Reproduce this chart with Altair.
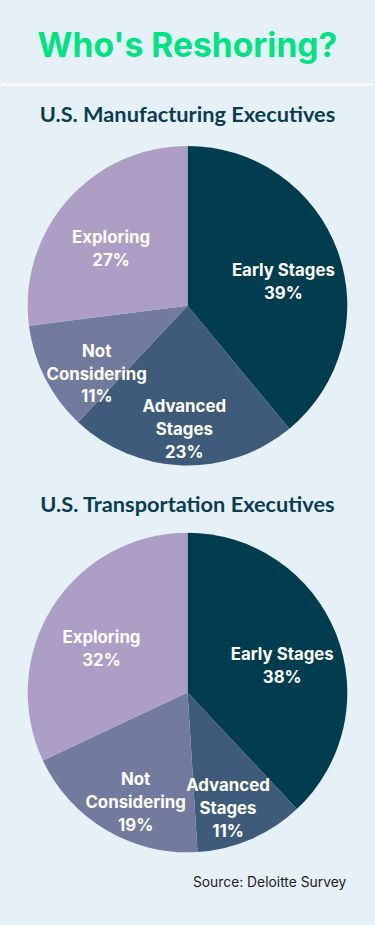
import altair as alt
import pandas as pd

title_text = "Who's Reshoring?"
source_text = "Source: Deloitte Survey"
categories = ["Early Stages", "Advanced Stages", "Not Considering", "Exploring"]
label_lines = ["Early Stages", "Advanced\nStages", "Not\nConsidering", "Exploring"]
manufacturing_title = "U.S. Manufacturing Executives"
manufacturing_values = [39, 23, 11, 27]
transportation_title = "U.S. Transportation Executives"
transportation_values = [38, 11, 19, 32]
slice_colors = ["#023d4f", "#3e5c79", "#727b9e", "#ad9ec6"]

W = 375
BG = "#e6f1f7"
DARK = "#0b3d50"


def text_panel(text, height, y, size, weight, color, font, align="center", x=W / 2):
    df = pd.DataFrame({"t": [text]})
    return (
        alt.Chart(df)
        .mark_text(font=font, fontSize=size, fontWeight=weight, color=color,
                   align=align, baseline="alphabetic")
        .encode(text="t:N", x=alt.value(x), y=alt.value(y))
        .properties(width=W, height=height)
    )


def pie(values):
    df = pd.DataFrame({
        "category": categories,
        "label": label_lines,
        "value": values,
        "order": list(range(len(categories))),
    })
    df["text"] = df["label"] + "\n" + df["value"].astype(str) + "%"
    arcs = alt.Chart(df).mark_arc(radius=161.5).encode(
        theta=alt.Theta("value:Q", stack=True),
        order=alt.Order("order:Q"),
        color=alt.Color("category:N", scale=alt.Scale(domain=categories, range=slice_colors), legend=None),
    )
    labels = alt.Chart(df).mark_text(
        radius=103, font="Inter", fontSize=17, fontWeight="bold", color="white",
        align="center", baseline="middle", lineBreak="\n", lineHeight=23,
    ).encode(
        theta=alt.Theta("value:Q", stack=True),
        order=alt.Order("order:Q"),
        text="text:N",
    )
    return alt.layer(arcs, labels).properties(width=W, height=324)


title_chart = text_panel(title_text, 90, 53, 34, "bold", "#00e383", "Inter")
rule = alt.Chart(pd.DataFrame({"a": [0]})).mark_rule(color="white", strokeWidth=2.5).encode(
    x=alt.value(0), x2=alt.value(W), y=alt.value(80.5)
)
header = alt.layer(title_chart, rule).properties(width=W, height=90)

sub1 = text_panel(manufacturing_title, 52, 28, 22, "bold", DARK, "Lato")
pie1 = pie(manufacturing_values)
sub2 = text_panel(transportation_title, 67, 47, 22, "bold", DARK, "Lato")
pie2 = pie(transportation_values)
source = text_panel(source_text, 68, 35, 14, "normal", "#222222", "Inter", align="right", x=348)

chart = (
    alt.vconcat(header, sub1, pie1, sub2, pie2, source, spacing=0)
    .properties(background=BG, padding=0)
    .configure_view(strokeWidth=0)
)

chart.save("out.html", embed_options={"renderer": "svg", "actions": False})
